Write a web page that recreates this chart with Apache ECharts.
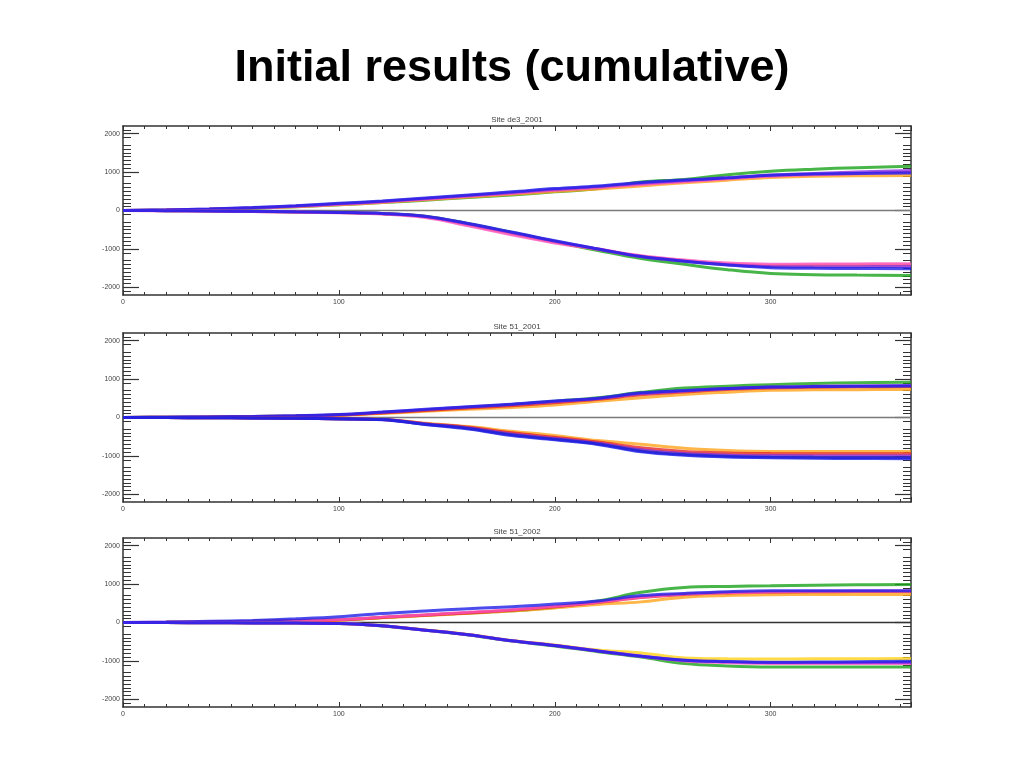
<!DOCTYPE html>
<html><head><meta charset="utf-8">
<script src="https://cdn.jsdelivr.net/npm/echarts@6/dist/echarts.min.js"></script>
<style>html,body{margin:0;padding:0;background:#fff}#c{width:1024px;height:768px}</style>
</head><body><div id="c"></div>
<script>
const mainTitle = 'Initial results (cumulative)';
const panelTitles = ['Site de3_2001', 'Site 51_2001', 'Site 51_2002'];
const days = [0,20,40,60,80,100,120,140,160,180,200,220,240,260,280,300,320,340,365];
const yTicks = [-2000,-1000,0,1000,2000];
const xTicks = [0,100,200,300];
const lineColors = {green:'#1aa31a', orange:'#ffa41c', red:'#e52525', pink:'#ff4fc0', purple:'#8a2be2', blue:'#1f1fe8', navy:'#2a2ab0', yellow:'#ffd21a'};

// Panel 1: Site de3_2001
const p1UpGreen  = [0,10,30,60,100,150,205,270,340,405,485,575,740,810,930,1020,1075,1115,1150];
const p1UpOrange = [0,12,32,62,100,150,210,280,350,420,495,560,640,720,790,860,890,905,910];
const p1UpPink   = [0,12,34,66,108,160,222,295,370,445,525,595,675,750,825,890,930,960,990];
const p1UpPurple = [0,14,38,72,118,176,236,312,392,470,555,622,712,782,852,925,965,1005,1040];
const p1UpBlue   = [0,16,42,78,124,186,248,326,406,486,570,636,730,792,850,920,950,965,975];
const p1LoGreen  = [0,-5,-12,-22,-36,-52,-78,-150,-345,-570,-810,-1040,-1250,-1400,-1540,-1640,-1670,-1680,-1690];
const p1LoOrange = [0,-5,-13,-24,-38,-55,-82,-160,-370,-600,-820,-1010,-1190,-1310,-1400,-1430,-1425,-1420,-1420];
const p1LoPink   = [0,-6,-15,-27,-42,-60,-92,-185,-400,-630,-845,-1005,-1180,-1290,-1370,-1400,-1395,-1390,-1385];
const p1LoPurple = [0,-5,-12,-23,-37,-53,-80,-155,-350,-575,-800,-1005,-1200,-1320,-1410,-1460,-1465,-1462,-1460];
const p1LoBlue   = [0,-5,-12,-22,-35,-50,-75,-150,-340,-560,-790,-1000,-1200,-1320,-1420,-1490,-1505,-1510,-1515];

// Panel 2: Site 51_2001
const p2UpGreen  = [0,6,13,24,40,66,125,190,262,335,425,515,655,765,815,855,885,905,918];
const p2UpOrange = [0,5,11,20,33,55,105,160,215,260,325,425,515,600,660,710,720,725,730];
const p2UpRed    = [0,6,13,23,38,62,120,180,248,305,385,475,590,665,730,770,790,800,810];
const p2UpPurple = [0,7,15,27,44,72,135,205,275,340,418,492,622,692,752,792,812,822,830];
const p2UpBlue   = [0,8,16,28,46,76,142,212,282,348,432,502,642,702,752,792,806,812,818];
const p2LoOrange = [0,-3,-7,-12,-20,-32,-50,-150,-235,-360,-470,-600,-695,-800,-860,-884,-884,-884,-884];
const p2LoRed    = [0,-3,-7,-12,-20,-33,-52,-160,-255,-400,-515,-640,-790,-885,-925,-940,-944,-944,-944];
const p2LoPurple = [0,-3,-7,-12,-21,-34,-54,-168,-272,-430,-545,-670,-840,-940,-980,-995,-1000,-1000,-1000];
const p2LoNavy   = [0,-3,-7,-12,-21,-35,-55,-175,-285,-450,-565,-690,-870,-965,-1010,-1030,-1038,-1040,-1042];
const p2LoBlue   = [0,-3,-7,-13,-22,-36,-56,-182,-298,-468,-582,-702,-895,-985,-1030,-1046,-1060,-1068,-1072];

// Panel 3: Site 51_2002
const p3UpGreen  = [0,5,15,30,50,70,130,190,250,305,400,560,785,912,940,954,970,980,991];
const p3UpOrange = [0,5,14,28,45,61,125,180,240,300,380,470,537,660,705,725,730,730,730];
const p3UpRed    = [0,5,15,30,48,65,130,190,250,320,410,520,650,730,770,790,800,805,810];
const p3UpPink   = [0,6,17,33,52,75,140,200,265,335,425,530,660,740,780,800,812,818,822];
const p3UpBlue   = [0,10,30,55,95,149,235,300,360,410,480,560,700,756,800,824,826,826,824];
const p3LoGreen  = [0,-2,-5,-10,-15,-27,-88,-202,-325,-485,-610,-760,-900,-1069,-1130,-1158,-1160,-1160,-1158];
const p3LoYellow = [0,-2,-5,-10,-15,-25,-84,-195,-312,-468,-585,-715,-793,-923,-945,-949,-945,-942,-940];
const p3LoPink   = [0,-2,-5,-10,-15,-26,-87,-200,-320,-478,-600,-745,-880,-1000,-1045,-1065,-1068,-1069,-1069];
const p3LoPurple = [0,-2,-5,-10,-15,-26,-86,-199,-318,-475,-598,-740,-870,-985,-1025,-1042,-1042,-1041,-1040];
const p3LoBlue   = [0,-2,-5,-10,-15,-26,-87,-200,-320,-478,-600,-740,-880,-980,-1015,-1035,-1030,-1020,-1010];

const panels = [
  {lines:[['green',p1UpGreen],['orange',p1UpOrange],['pink',p1UpPink],['purple',p1UpPurple],['blue',p1UpBlue],
          ['green',p1LoGreen],['orange',p1LoOrange],['pink',p1LoPink],['purple',p1LoPurple],['blue',p1LoBlue]], zero:'#7a7a7a'},
  {lines:[['green',p2UpGreen],['orange',p2UpOrange],['red',p2UpRed],['purple',p2UpPurple],['blue',p2UpBlue],
          ['orange',p2LoOrange],['red',p2LoRed],['purple',p2LoPurple],['navy',p2LoNavy],['blue',p2LoBlue]], zero:'#7a7a7a'},
  {lines:[['green',p3UpGreen],['orange',p3UpOrange],['red',p3UpRed],['pink',p3UpPink],['blue',p3UpBlue],
          ['green',p3LoGreen],['yellow',p3LoYellow],['pink',p3LoPink],['purple',p3LoPurple],['blue',p3LoBlue]], zero:'#333'}
];

const gridTops = [126, 333, 538];
const gridH = 169;
const chart = echarts.init(document.getElementById('c'));
const font = 'Liberation Sans, Arial, sans-serif';
const titles = [{text: mainTitle, left: 'center', top: 41,
  textStyle:{fontFamily:font, fontSize:45, fontWeight:'bold', color:'#000'}}];
const grids = [], xAxes = [], yAxes = [], series = [];
const axisCol = '#333';
panels.forEach((p, i) => {
  titles.push({text: panelTitles[i], left: 517, textAlign:'center', top: gridTops[i]-12, padding:0,
    textStyle:{fontFamily:font, fontSize:8, lineHeight:11, fontWeight:'normal', color:'#444'}});
  grids.push({left:123, width:788, top:gridTops[i], height:gridH, show:false});
  const xa = (pos, lab) => ({type:'value', gridIndex:i, position:pos, min:0, max:365, interval:100,
    axisLine:{show:true, onZero:false, lineStyle:{color:axisCol, width:1.5}},
    axisTick:{show:true, inside:true, length:5, lineStyle:{color:axisCol, width:1}},
    minorTick:{show:true, splitNumber:10, length:3, lineStyle:{color:axisCol, width:1}},
    splitLine:{show:false},
    axisLabel:{show:lab, fontSize:7, color:'#444', margin:4, fontFamily:font,
      customValues: xTicks, formatter: v => String(v)}});
  xAxes.push(xa('bottom', true)); xAxes.push(xa('top', false));
  const ya = (pos, lab) => ({type:'value', gridIndex:i, position:pos, min:-2200, max:2200,
    axisLine:{show:true, onZero:false, lineStyle:{color:axisCol, width:1.5}},
    axisTick:{show:true, inside:true, length:16, customValues: yTicks, lineStyle:{color:axisCol, width:1.2}},
    minorTick:{show:true, splitNumber:10, length:8, lineStyle:{color:axisCol, width:1}},
    splitLine:{show:false}, interval:1000,
    axisLabel:{show:lab, fontSize:7, color:'#444', margin:3, fontFamily:font,
      customValues: yTicks, formatter: v => String(v)}});
  yAxes.push(ya('left', true)); yAxes.push(ya('right', false));
  p.lines.forEach(([c, vals]) => {
    series.push({type:'line', xAxisIndex:i*2, yAxisIndex:i*2, smooth:0.4, symbol:'none',
      data: days.map((d, k) => [d, vals[k]]),
      lineStyle:{color: lineColors[c], width:3, opacity:0.8}, z:3, silent:true});
  });
  series.push({type:'line', xAxisIndex:i*2, yAxisIndex:i*2, symbol:'none', data:[[0,0],[365,0]],
    lineStyle:{color:p.zero, width:1.5}, z:2, silent:true});
});
chart.setOption({animation:false, title:titles, grid:grids, xAxis:xAxes, yAxis:yAxes, series:series});
</script></body></html>
